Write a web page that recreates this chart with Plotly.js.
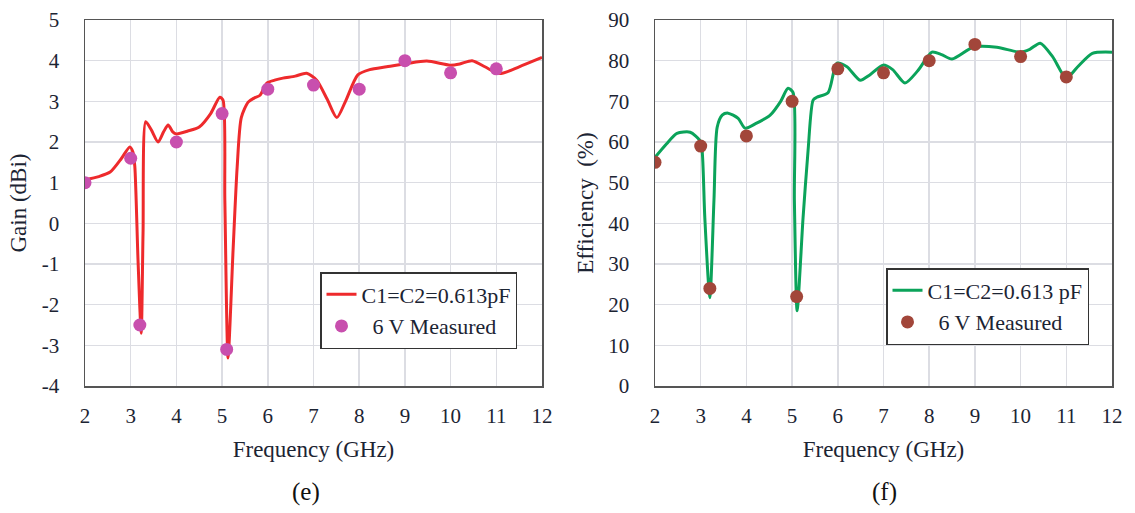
<!DOCTYPE html>
<html>
<head>
<meta charset="utf-8">
<script src="https://cdn.plot.ly/plotly-3.0.1.min.js"></script>
<style>html,body{margin:0;padding:0;background:#fff;}#chart{width:1135px;height:513px;}</style>
</head>
<body>
<div id="chart"></div>
<script>
// Gain (left panel)
const gainSimFreq = [2.0, 2.3, 2.55, 2.8, 2.98, 3.05, 3.09, 3.16, 3.23, 3.27, 3.33, 3.45, 3.6, 3.72, 3.82, 3.92, 4.0, 4.25, 4.5, 4.75, 4.95, 5.02, 5.06, 5.13, 5.24, 5.33, 5.42, 5.57, 5.7, 5.83, 5.98, 6.15, 6.33, 6.6, 6.85, 7.07, 7.3, 7.51, 7.7, 7.97, 8.23, 8.6, 9.04, 9.48, 9.99, 10.2, 10.47, 10.75, 11.0, 11.13, 11.5, 12.0];
const gainSim     = [1.07, 1.15, 1.26, 1.6, 1.88, 1.75, 1.4, -0.9, -2.7, -0.24, 2.5, 2.3, 2.0, 2.25, 2.42, 2.25, 2.2, 2.27, 2.37, 2.7, 3.1, 3.03, 0.57, -3.31, -0.66, 1.39, 2.6, 2.98, 3.08, 3.15, 3.45, 3.52, 3.57, 3.62, 3.69, 3.52, 3.05, 2.6, 3.0, 3.65, 3.78, 3.85, 3.93, 3.99, 3.89, 3.92, 4.0, 3.85, 3.70, 3.69, 3.85, 4.08];
const gainMeasFreq = [2, 3, 3.2, 4, 5, 5.1, 6, 7, 8, 9, 10, 11];
const gainMeas     = [1.0, 1.6, -2.5, 2.0, 2.7, -3.1, 3.3, 3.4, 3.3, 4.0, 3.7, 3.8];

// Efficiency (right panel)
const effSimFreq = [2.0, 2.25, 2.48, 2.77, 2.98, 3.03, 3.09, 3.2, 3.29, 3.36, 3.47, 3.6, 3.82, 3.97, 4.2, 4.52, 4.75, 4.91, 5.02, 5.05, 5.11, 5.24, 5.35, 5.46, 5.54, 5.79, 5.98, 6.2, 6.49, 6.7, 6.99, 7.2, 7.47, 7.75, 8.06, 8.27, 8.5, 8.96, 9.48, 9.99, 10.2, 10.43, 10.7, 11.0, 11.25, 11.57, 12.0];
const effSim     = [56.2, 59.5, 62.1, 62.4, 60.4, 58.0, 41.4, 21.7, 45.6, 63.6, 66.6, 67.1, 65.8, 63.4, 64.5, 66.6, 70.0, 73.2, 72.2, 45.6, 18.5, 41.4, 58.0, 70.3, 71.0, 72.2, 79.4, 78.5, 75.2, 76.5, 78.9, 77.8, 74.5, 77.5, 82.1, 81.5, 80.4, 83.3, 83.3, 82.1, 82.8, 84.3, 81.0, 75.7, 78.5, 81.8, 82.1];
const effMeasFreq = [2, 3, 3.2, 4, 5, 5.1, 6, 7, 8, 9, 10, 11];
const effMeas     = [55, 59, 24, 61.5, 70, 22, 78, 77, 80, 84, 81, 76];

// Tick labels
const freqTicks = [2, 3, 4, 5, 6, 7, 8, 9, 10, 11, 12];
const gainTicks = [-4, -3, -2, -1, 0, 1, 2, 3, 4, 5];
const gainTickText = ['-4', '-3', '-2', '-1', '0', '1', '2', '3', '4', '5'];
const effTicks  = [0, 10, 20, 30, 40, 50, 60, 70, 80, 90];

const simLabelL = 'C1=C2=0.613pF';
const simLabelR = 'C1=C2=0.613 pF';
const measLabel = '\u00a0\u00a06 V Measured';

const FONT = 'Liberation Serif, Times New Roman, serif';
const TXT = '#1c2433';
const W = 1135, H = 513;
const px = v => v / W, py = v => 1 - v / H;

const traces = [
  {x: gainSimFreq, y: gainSim, type: 'scatter', mode: 'lines', name: simLabelL,
   line: {color: '#ee2a2c', width: 3, shape: 'spline', smoothing: 0.7}, xaxis: 'x', yaxis: 'y', legend: 'legend'},
  {x: gainMeasFreq, y: gainMeas, type: 'scatter', mode: 'markers', name: measLabel,
   marker: {color: '#c84fae', size: 13}, xaxis: 'x', yaxis: 'y', legend: 'legend'},
  {x: effSimFreq, y: effSim, type: 'scatter', mode: 'lines', name: simLabelR,
   line: {color: '#0ba35a', width: 3, shape: 'spline', smoothing: 0.7}, xaxis: 'x2', yaxis: 'y2', legend: 'legend2'},
  {x: effMeasFreq, y: effMeas, type: 'scatter', mode: 'markers', name: measLabel,
   marker: {color: '#a2463a', size: 13}, xaxis: 'x2', yaxis: 'y2', legend: 'legend2'}
];

const axCommon = {
  showgrid: true, gridcolor: '#dcdde3', gridwidth: 1.5,
  showline: true, linecolor: '#555', linewidth: 1.5, mirror: true,
  ticks: '', zeroline: false,
  tickfont: {family: FONT, size: 21, color: TXT}
};

const legCommon = {
  font: {family: FONT, size: 22, color: TXT},
  bgcolor: '#ffffff', bordercolor: '#333', borderwidth: 1.5,
  xanchor: 'left', yanchor: 'top', tracegroupgap: 0, itemwidth: 30
};

const titleFont = {family: FONT, size: 23, color: TXT};

const layout = {
  width: W, height: H,
  margin: {l: 0, r: 0, t: 0, b: 0},
  paper_bgcolor: '#fff', plot_bgcolor: '#fff',
  showlegend: true,
  xaxis: Object.assign({}, axCommon, {domain: [px(85), px(542)], range: [2, 12], tickvals: freqTicks, ticklabelstandoff: 10, anchor: 'y',
    title: {text: 'Frequency (GHz)', font: titleFont, standoff: 14}}),
  yaxis: Object.assign({}, axCommon, {domain: [py(386), py(20)], range: [-4, 5], tickvals: gainTicks, ticktext: gainTickText, ticklabelstandoff: 20, anchor: 'x',
    title: {text: 'Gain (dBi)', font: titleFont, standoff: 8}}),
  xaxis2: Object.assign({}, axCommon, {domain: [px(655), px(1112)], range: [2, 12], tickvals: freqTicks, ticklabelstandoff: 10, anchor: 'y2',
    title: {text: 'Frequency (GHz)', font: titleFont, standoff: 14}}),
  yaxis2: Object.assign({}, axCommon, {domain: [py(386), py(20)], range: [0, 90], tickvals: effTicks, ticklabelstandoff: 20, anchor: 'x2',
    title: {text: 'Efficiency\u00a0\u00a0(%)', font: titleFont, standoff: 8}}),
  legend: Object.assign({}, legCommon, {x: px(320), y: py(272)}),
  legend2: Object.assign({}, legCommon, {x: px(886), y: py(268)}),
  annotations: [
    {text: '(e)', x: px(306), y: py(492), xref: 'paper', yref: 'paper', showarrow: false,
     font: {family: FONT, size: 25, color: '#111'}, xanchor: 'center', yanchor: 'middle'},
    {text: '(f)', x: px(884), y: py(492), xref: 'paper', yref: 'paper', showarrow: false,
     font: {family: FONT, size: 25, color: '#111'}, xanchor: 'center', yanchor: 'middle'}
  ]
};

Plotly.newPlot('chart', traces, layout, {staticPlot: true, displayModeBar: false});
</script>
</body>
</html>
